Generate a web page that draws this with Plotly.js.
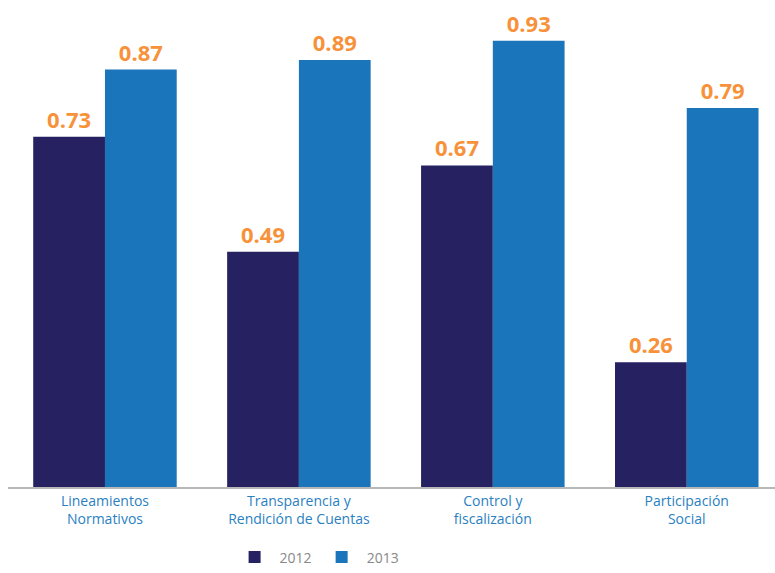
<!DOCTYPE html>
<html>
<head>
<meta charset="utf-8">
<script src="https://cdn.plot.ly/plotly-3.0.1.min.js"></script>
<style>html,body{margin:0;padding:0;background:#fff;}#chart{width:775px;height:573px;}</style>
</head>
<body>
<div id="chart"></div>
<script>
const categories = ["Lineamientos<br>Normativos", "Transparencia y<br>Rendición de Cuentas", "Control y<br>fiscalización", "Participación<br>Social"];
const seriesNames = ["2012", "2013"];
const values2012 = [0.73, 0.49, 0.67, 0.26];
const values2013 = [0.87, 0.89, 0.93, 0.79];

const labelFont = {family: "Open Sans, Noto Sans, sans-serif", size: 22, color: "#f7923a", weight: 700};

const traces = [
  {type: "bar", name: seriesNames[0], x: categories, y: values2012,
   marker: {color: "#262262", line: {width: 0}},
   text: values2012.map(v => v.toFixed(2)), textposition: "outside",
   textfont: labelFont, cliponaxis: false, hoverinfo: "x+y"},
  {type: "bar", name: seriesNames[1], x: categories, y: values2013,
   marker: {color: "#1a75bb", line: {width: 0}},
   text: values2013.map(v => v.toFixed(2)), textposition: "outside",
   textfont: labelFont, cliponaxis: false, hoverinfo: "x+y"}
];

const layout = {
  width: 775, height: 573,
  margin: {l: 8, r: 0, t: 10, b: 86, autoexpand: false},
  paper_bgcolor: "#ffffff", plot_bgcolor: "#ffffff",
  barmode: "group", bargap: 0.26, bargroupgap: 0,
  showlegend: true,
  legend: {orientation: "h", x: 0.403, xanchor: "center", yref: "container", y: 0.055, yanchor: "top",
           font: {family: "Open Sans, Noto Sans, sans-serif", size: 14, color: "#888888"},
           itemwidth: 40},
  xaxis: {range: [-0.5, 3.455], showline: true, linecolor: "#b8b8b8", linewidth: 2,
          showgrid: false, zeroline: false, ticks: "", automargin: false,
          tickfont: {family: "Open Sans, Noto Sans, sans-serif", size: 14, color: "#2a7fc1"}},
  yaxis: {range: [0, 0.994], visible: false, showgrid: false, zeroline: false},
  uniformtext: {mode: false}
};

Plotly.newPlot("chart", traces, layout, {displayModeBar: false, staticPlot: true});
</script>
</body>
</html>
